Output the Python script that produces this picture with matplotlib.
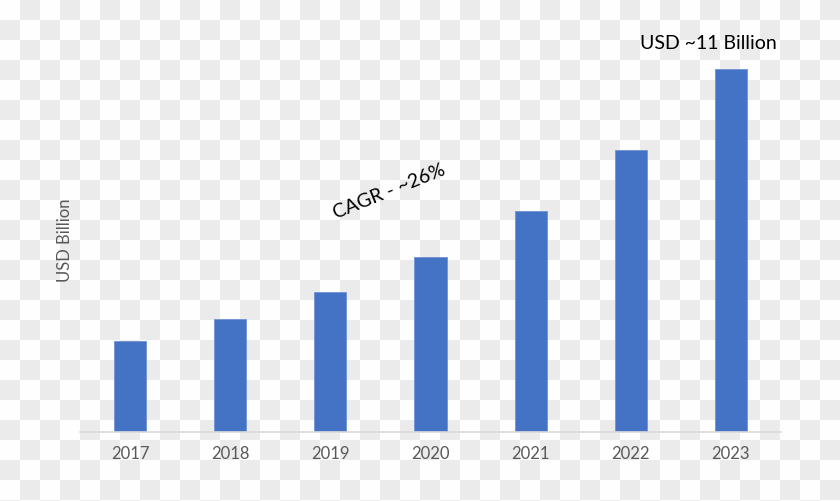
import numpy as np
import matplotlib
matplotlib.use("Agg")
import matplotlib.pyplot as plt
from matplotlib.patches import Rectangle
from matplotlib.collections import PatchCollection

years = ["2017", "2018", "2019", "2020", "2021", "2022", "2023"]
market_size = [2.76, 3.42, 4.24, 5.30, 6.70, 8.55, 11.0]

plt.rcParams['font.family'] = ['Lato', 'DejaVu Sans']

W, H = 840, 501
fig = plt.figure(figsize=(W / 100, H / 100), dpi=100, facecolor="#fefefe")

# checkerboard "transparent" backdrop, 20px squares, top-left square is white
bg = fig.add_axes([0, 0, 1, 1], zorder=-1)
bg.set_xlim(0, W)
bg.set_ylim(H, 0)
bg.axis("off")
squares = [Rectangle((c * 20, r * 20), 20, 20)
           for r in range(H // 20 + 1) for c in range(W // 20 + 1) if (r + c) % 2 == 1]
bg.add_collection(PatchCollection(squares, facecolor="#ebebeb", edgecolor="none"))

ax = fig.add_axes([80 / W, (H - 432) / H, 701 / W, 396 / H], zorder=1)
ax.patch.set_alpha(0)
x = np.arange(len(years))
ax.bar(x, market_size, width=0.32, color="#4472C4", edgecolor="#6f93d4", linewidth=0.6)
ax.set_xlim(-0.5, len(years) - 0.5)
ax.set_ylim(0, 12)
ax.set_xticks(x)
ax.set_xticklabels(years, fontsize=12, color="#595959")
ax.tick_params(axis="x", length=0, pad=10)
ax.set_yticks([])
for s in ["top", "right", "left"]:
    ax.spines[s].set_visible(False)
ax.spines["bottom"].set_color("#d9d9d9")
ax.spines["bottom"].set_linewidth(1.2)

fig.text(65 / W, 1 - 240 / H, "USD Billion", rotation=90, ha="center", va="center",
         fontsize=12, color="#595959")

ax.annotate("USD ~11 Billion", xy=(x[-1], market_size[-1]), xytext=(-16, 12),
            textcoords="offset points", ha="center", va="bottom", fontsize=14, color="black")
fig.text(389 / W, 1 - 192 / H, "CAGR - ~26%", rotation=22, ha="center", va="center",
         fontsize=14, color="black")

fig.savefig("out.png", dpi=100, facecolor=fig.get_facecolor())
